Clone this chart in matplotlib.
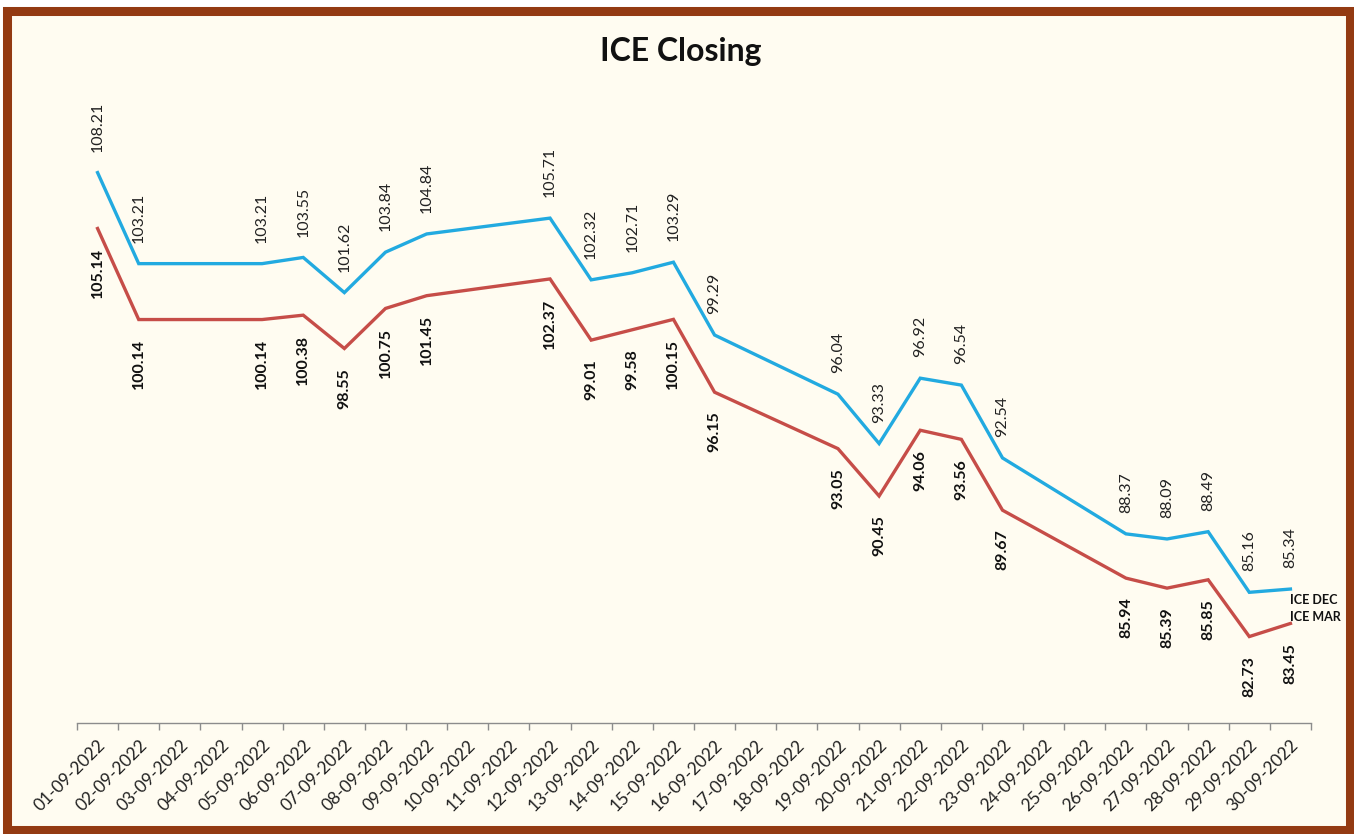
import matplotlib
matplotlib.use("Agg")
import matplotlib.pyplot as plt
from matplotlib.patches import Rectangle

categories = [f"{d:02d}-09-2022" for d in range(1, 31)]
trade_dates = ["01-09-2022", "02-09-2022", "05-09-2022", "06-09-2022", "07-09-2022",
               "08-09-2022", "09-09-2022", "12-09-2022", "13-09-2022", "14-09-2022",
               "15-09-2022", "16-09-2022", "19-09-2022", "20-09-2022", "21-09-2022",
               "22-09-2022", "23-09-2022", "26-09-2022", "27-09-2022", "28-09-2022",
               "29-09-2022", "30-09-2022"]
ice_dec = [108.21, 103.21, 103.21, 103.55, 101.62, 103.84, 104.84, 105.71, 102.32, 102.71,
           103.29, 99.29, 96.04, 93.33, 96.92, 96.54, 92.54, 88.37, 88.09, 88.49, 85.16, 85.34]
ice_mar = [105.14, 100.14, 100.14, 100.38, 98.55, 100.75, 101.45, 102.37, 99.01, 99.58,
           100.15, 96.15, 93.05, 90.45, 94.06, 93.56, 89.67, 85.94, 85.39, 85.85, 82.73, 83.45]
series_names = ["ICE DEC", "ICE MAR"]
title = "ICE Closing"

plt.rcParams['font.family'] = ['Lato', 'DejaVu Sans']

W, H = 1354, 834
fig = plt.figure(figsize=(W / 100, H / 100), dpi=100)
fig.patch.set_facecolor("white")
fig.patches.append(Rectangle((7 / W, 4 / H), (W - 11) / W, (H - 15) / H, transform=fig.transFigure,
                             facecolor="#FFFCF1", edgecolor="#933A12", linewidth=6.5, zorder=-10))

ax = fig.add_axes([77 / W, 1 - 722.7 / H, (1311 - 77) / W, (722.7 - 140) / H])
ax.set_zorder(5)
ax.set_facecolor("none")
x_pos = list(range(len(categories)))
xs = [categories.index(d) for d in trade_dates]

dec_color = "#22AAE0"
mar_color = "#C64D48"
ax.plot(xs, ice_dec, color=dec_color, lw=2.4, solid_joinstyle="miter", zorder=3)
ax.plot(xs, ice_mar, color=mar_color, lw=2.4, solid_joinstyle="miter", zorder=3)

for x, v in zip(xs, ice_dec):
    ax.annotate(f"{v:.2f}", (x, v), xytext=(0, 15), textcoords="offset points",
                rotation=90, ha="center", va="bottom", fontsize=11.5, color="#222222")
for x, v in zip(xs, ice_mar):
    ax.annotate(f"{v:.2f}", (x, v), xytext=(0, -14), textcoords="offset points",
                rotation=90, ha="center", va="top", fontsize=11.5, fontweight="bold", color="#111111")

ax.annotate(series_names[0], (xs[-1], ice_dec[-1]), xytext=(0, -8), textcoords="offset points",
            ha="left", va="center", fontsize=9, fontweight="bold", color="#111111")
ax.annotate(series_names[1], (xs[-1], ice_mar[-1]), xytext=(0, 5), textcoords="offset points",
            ha="left", va="center", fontsize=9, fontweight="bold", color="#111111")

ax.set_xlim(-0.5, len(categories) - 0.5)
ax.set_ylim(78, 110)
ax.set_yticks([])
for s in ["left", "top", "right"]:
    ax.spines[s].set_visible(False)
ax.spines["bottom"].set_color("#8C8C8C")
ax.spines["bottom"].set_linewidth(1.0)

ax.set_xticks(x_pos)
ax.set_xticklabels(categories, rotation=45, ha="right", rotation_mode="anchor",
                   fontsize=12.5, color="#222222")
ax.tick_params(axis="x", which="major", length=0, pad=10)
ax.set_xticks([i - 0.5 for i in range(len(categories) + 1)], minor=True)
ax.tick_params(axis="x", which="minor", length=5, width=1.0, color="#8C8C8C", direction="out")

fig.text(681 / W, 1 - 52 / H, title, ha="center", va="center", fontsize=23, fontweight="bold",
         color="#111111")

fig.savefig("out.png", dpi=100, facecolor=fig.get_facecolor())
